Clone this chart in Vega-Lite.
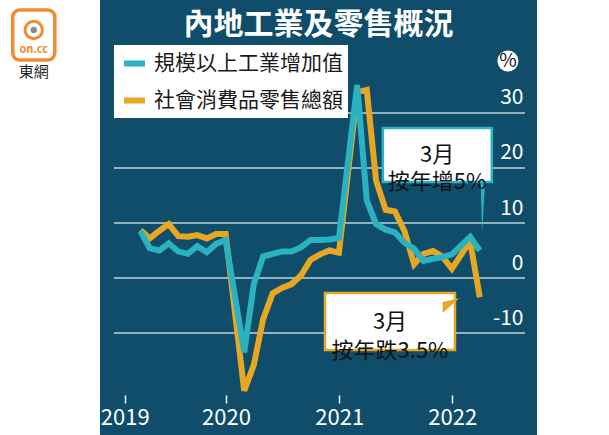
{
  "$schema": "https://vega.github.io/schema/vega-lite/v6.json",
  "width": 437,
  "height": 435,
  "autosize": "none",
  "padding": {"left": 100, "right": 72, "top": 0, "bottom": 0},
  "background": "white",
  "title": {
    "text": "內地工業及零售概況",
    "font": "Noto Sans CJK TC",
    "fontSize": 30,
    "fontWeight": "bold",
    "color": "white",
    "anchor": "middle",
    "frame": "group",
    "offset": -40
  },
  "config": {
    "view": {"fill": "#0f4d6a", "stroke": null},
    "font": "Noto Sans CJK TC",
    "axis": {"title": null}
  },
  "datasets": {
    "series": [
      {"date": "2019-03-31", "series": "規模以上工業增加值", "value": 8.5},
      {"date": "2019-04-30", "series": "規模以上工業增加值", "value": 5.4},
      {"date": "2019-05-31", "series": "規模以上工業增加值", "value": 5.0},
      {"date": "2019-06-30", "series": "規模以上工業增加值", "value": 6.3},
      {"date": "2019-07-31", "series": "規模以上工業增加值", "value": 4.8},
      {"date": "2019-08-31", "series": "規模以上工業增加值", "value": 4.4},
      {"date": "2019-09-30", "series": "規模以上工業增加值", "value": 5.8},
      {"date": "2019-10-31", "series": "規模以上工業增加值", "value": 4.7},
      {"date": "2019-11-30", "series": "規模以上工業增加值", "value": 6.2},
      {"date": "2019-12-31", "series": "規模以上工業增加值", "value": 6.9},
      {"date": "2020-02-29", "series": "規模以上工業增加值", "value": -13.5},
      {"date": "2020-03-31", "series": "規模以上工業增加值", "value": -1.1},
      {"date": "2020-04-30", "series": "規模以上工業增加值", "value": 3.9},
      {"date": "2020-05-31", "series": "規模以上工業增加值", "value": 4.4},
      {"date": "2020-06-30", "series": "規模以上工業增加值", "value": 4.8},
      {"date": "2020-07-31", "series": "規模以上工業增加值", "value": 4.8},
      {"date": "2020-08-31", "series": "規模以上工業增加值", "value": 5.6},
      {"date": "2020-09-30", "series": "規模以上工業增加值", "value": 6.9},
      {"date": "2020-10-31", "series": "規模以上工業增加值", "value": 6.9},
      {"date": "2020-11-30", "series": "規模以上工業增加值", "value": 7.0},
      {"date": "2020-12-31", "series": "規模以上工業增加值", "value": 7.3},
      {"date": "2021-02-28", "series": "規模以上工業增加值", "value": 35.1},
      {"date": "2021-03-31", "series": "規模以上工業增加值", "value": 14.1},
      {"date": "2021-04-30", "series": "規模以上工業增加值", "value": 9.8},
      {"date": "2021-05-31", "series": "規模以上工業增加值", "value": 8.8},
      {"date": "2021-06-30", "series": "規模以上工業增加值", "value": 8.3},
      {"date": "2021-07-31", "series": "規模以上工業增加值", "value": 6.4},
      {"date": "2021-08-31", "series": "規模以上工業增加值", "value": 5.3},
      {"date": "2021-09-30", "series": "規模以上工業增加值", "value": 3.1},
      {"date": "2021-10-31", "series": "規模以上工業增加值", "value": 3.5},
      {"date": "2021-11-30", "series": "規模以上工業增加值", "value": 3.8},
      {"date": "2021-12-31", "series": "規模以上工業增加值", "value": 4.3},
      {"date": "2022-02-28", "series": "規模以上工業增加值", "value": 7.5},
      {"date": "2022-03-31", "series": "規模以上工業增加值", "value": 5.0},
      {"date": "2019-03-31", "series": "社會消費品零售總額", "value": 8.7},
      {"date": "2019-04-30", "series": "社會消費品零售總額", "value": 7.2},
      {"date": "2019-05-31", "series": "社會消費品零售總額", "value": 8.6},
      {"date": "2019-06-30", "series": "社會消費品零售總額", "value": 9.8},
      {"date": "2019-07-31", "series": "社會消費品零售總額", "value": 7.6},
      {"date": "2019-08-31", "series": "社會消費品零售總額", "value": 7.5},
      {"date": "2019-09-30", "series": "社會消費品零售總額", "value": 7.8},
      {"date": "2019-10-31", "series": "社會消費品零售總額", "value": 7.2},
      {"date": "2019-11-30", "series": "社會消費品零售總額", "value": 8.0},
      {"date": "2019-12-31", "series": "社會消費品零售總額", "value": 8.0},
      {"date": "2020-02-29", "series": "社會消費品零售總額", "value": -20.5},
      {"date": "2020-03-31", "series": "社會消費品零售總額", "value": -15.8},
      {"date": "2020-04-30", "series": "社會消費品零售總額", "value": -7.5},
      {"date": "2020-05-31", "series": "社會消費品零售總額", "value": -2.8},
      {"date": "2020-06-30", "series": "社會消費品零售總額", "value": -1.8},
      {"date": "2020-07-31", "series": "社會消費品零售總額", "value": -1.1},
      {"date": "2020-08-31", "series": "社會消費品零售總額", "value": 0.5},
      {"date": "2020-09-30", "series": "社會消費品零售總額", "value": 3.3},
      {"date": "2020-10-31", "series": "社會消費品零售總額", "value": 4.3},
      {"date": "2020-11-30", "series": "社會消費品零售總額", "value": 5.0},
      {"date": "2020-12-31", "series": "社會消費品零售總額", "value": 4.6},
      {"date": "2021-02-28", "series": "社會消費品零售總額", "value": 33.8},
      {"date": "2021-03-31", "series": "社會消費品零售總額", "value": 34.2},
      {"date": "2021-04-30", "series": "社會消費品零售總額", "value": 17.7},
      {"date": "2021-05-31", "series": "社會消費品零售總額", "value": 12.4},
      {"date": "2021-06-30", "series": "社會消費品零售總額", "value": 12.1},
      {"date": "2021-07-31", "series": "社會消費品零售總額", "value": 8.5},
      {"date": "2021-08-31", "series": "社會消費品零售總額", "value": 2.5},
      {"date": "2021-09-30", "series": "社會消費品零售總額", "value": 4.4},
      {"date": "2021-10-31", "series": "社會消費品零售總額", "value": 4.9},
      {"date": "2021-11-30", "series": "社會消費品零售總額", "value": 3.9},
      {"date": "2021-12-31", "series": "社會消費品零售總額", "value": 1.7},
      {"date": "2022-02-28", "series": "社會消費品零售總額", "value": 6.7},
      {"date": "2022-03-31", "series": "社會消費品零售總額", "value": -3.5}
    ],
    "grid": [{"tick": -10}, {"tick": 0}, {"tick": 10}, {"tick": 20}, {"tick": 30}]
  },
  "layer": [
    {
      "data": {"name": "grid"},
      "mark": {"type": "rule", "stroke": "#c2d3dc", "strokeWidth": 1.5},
      "encoding": {
        "x": {
          "datum": {"year": 2019, "month": 1, "date": 4, "utc": true},
          "type": "temporal",
          "scale": {
            "type": "utc",
            "domain": [
              {"year": 2018, "month": 11, "date": 20, "utc": true},
              {"year": 2022, "month": 10, "date": 2, "utc": true}
            ]
          }
        },
        "x2": {"datum": {"year": 2022, "month": 8, "date": 24, "utc": true}},
        "y": {
          "field": "tick",
          "type": "quantitative",
          "scale": {"domain": [-28.545, 50.545], "nice": false, "zero": false},
          "axis": {
            "orient": "right",
            "values": [-10, 0, 10, 20, 30],
            "labelExpr": "'' + datum.value",
            "domain": false,
            "ticks": false,
            "tickSize": 0,
            "grid": false,
            "labelAlign": "right",
            "labelBaseline": "middle",
            "labelPadding": -14,
            "labelOffset": -15,
            "labelColor": "white",
            "labelFontSize": 21,
            "labelFont": "Noto Sans CJK TC",
            "title": null
          }
        }
      }
    },
    {
      "data": {"name": "series"},
      "transform": [{"filter": "datum.series === '社會消費品零售總額'"}],
      "mark": {"type": "line", "strokeWidth": 6, "strokeJoin": "miter"},
      "encoding": {
        "x": {
          "field": "date",
          "type": "temporal",
          "axis": {
            "orient": "bottom",
            "offset": -40,
            "values": [
              {"year": 2019, "month": 2, "date": 8, "utc": true},
              {"year": 2020, "month": 1, "date": 1, "utc": true},
              {"year": 2021, "month": 1, "date": 1, "utc": true},
              {"year": 2022, "month": 1, "date": 1, "utc": true}
            ],
            "format": "%Y",
            "domain": false,
            "grid": false,
            "ticks": true,
            "tickSize": 8,
            "tickColor": "white",
            "tickWidth": 1.5,
            "labelColor": "white",
            "labelFontSize": 22,
            "labelFont": "Noto Sans CJK TC",
            "labelPadding": 4,
            "labelFlush": false,
            "labelOverlap": false,
            "title": null
          }
        },
        "y": {"field": "value", "type": "quantitative"},
        "color": {
          "field": "series",
          "type": "nominal",
          "scale": {
            "domain": ["規模以上工業增加值", "社會消費品零售總額"],
            "range": ["#2bb2c0", "#e8a722"]
          },
          "legend": {
            "orient": "none",
            "legendX": 14,
            "legendY": 45,
            "title": null,
            "fillColor": "white",
            "padding": 5,
            "rowPadding": 11,
            "symbolType": "stroke",
            "symbolSize": 441,
            "symbolStrokeWidth": 6,
            "symbolOffset": 2,
            "labelOffset": 6,
            "labelFontSize": 21,
            "labelFont": "Noto Sans CJK TC",
            "labelColor": "#1a1a1a",
            "labelLimit": 300
          }
        }
      }
    },
    {
      "data": {"name": "series"},
      "transform": [{"filter": "datum.series === '規模以上工業增加值'"}],
      "mark": {"type": "line", "strokeWidth": 6, "strokeJoin": "miter"},
      "encoding": {
        "x": {"field": "date", "type": "temporal"},
        "y": {"field": "value", "type": "quantitative"},
        "color": {"field": "series", "type": "nominal"}
      }
    },
    {
      "data": {"values": [{"note": "3月\n按年增5%"}]},
      "layer": [
        {
          "mark": {"type": "rect", "fill": "white", "stroke": "#2bb2c0", "strokeWidth": 2.5},
          "encoding": {
            "x": {"datum": {"year": 2021, "month": 5, "date": 22, "utc": true}, "type": "temporal"},
            "x2": {"datum": {"year": 2022, "month": 5, "date": 9, "utc": true}},
            "y": {"datum": 27.27, "type": "quantitative"},
            "y2": {"datum": 17.45}
          }
        },
        {
          "mark": {"type": "point", "shape": "M -0.08 -1.05 L 0.09 -1.05 L -0.03 1 Z", "filled": true, "fill": "#2bb2c0", "opacity": 1, "size": 2704, "strokeWidth": 0},
          "encoding": {
            "x": {"datum": {"year": 2022, "month": 4, "date": 10, "utc": true}, "type": "temporal"},
            "y": {"datum": 12.73, "type": "quantitative"}
          }
        },
        {
          "mark": {"type": "text", "lineBreak": "\n", "fontSize": 22, "lineHeight": 27, "color": "#111111", "align": "center", "baseline": "middle", "font": "Noto Sans CJK TC"},
          "encoding": {
            "x": {"datum": {"year": 2021, "month": 11, "date": 13, "utc": true}, "type": "temporal"},
            "y": {"datum": 22.36, "type": "quantitative"},
            "text": {"field": "note"}
          }
        }
      ]
    },
    {
      "data": {"values": [{"note": "3月\n按年跌3.5%"}]},
      "layer": [
        {
          "mark": {"type": "rect", "fill": "white", "stroke": "#e8a722", "strokeWidth": 2.5},
          "encoding": {
            "x": {"datum": {"year": 2020, "month": 11, "date": 16, "utc": true}, "type": "temporal"},
            "x2": {"datum": {"year": 2022, "month": 1, "date": 10, "utc": true}},
            "y": {"datum": -2.73, "type": "quantitative"},
            "y2": {"datum": -13.09}
          }
        },
        {
          "mark": {"type": "point", "shape": "M -1.15 -0.44 L -1.15 0.94 L 0.94 -0.94 Z", "filled": true, "fill": "#e8a722", "opacity": 1, "size": 256, "strokeWidth": 0},
          "encoding": {
            "x": {"datum": {"year": 2021, "month": 12, "date": 31, "utc": true}, "type": "temporal"},
            "y": {"datum": -5.0, "type": "quantitative"}
          }
        },
        {
          "mark": {"type": "text", "lineBreak": "\n", "fontSize": 22, "lineHeight": 29, "color": "#111111", "align": "center", "baseline": "middle", "font": "Noto Sans CJK TC"},
          "encoding": {
            "x": {"datum": {"year": 2021, "month": 6, "date": 14, "utc": true}, "type": "temporal"},
            "y": {"datum": -8.09, "type": "quantitative"},
            "text": {"field": "note"}
          }
        }
      ]
    },
    {
      "data": {"values": [{"unit": "%"}]},
      "layer": [
        {
          "mark": {"type": "point", "shape": "circle", "filled": true, "fill": "white", "opacity": 1, "size": 441, "strokeWidth": 0},
          "encoding": {
            "x": {"datum": {"year": 2022, "month": 6, "date": 30, "utc": true}, "type": "temporal"},
            "y": {"datum": 39.45, "type": "quantitative"}
          }
        },
        {
          "mark": {"type": "text", "fontSize": 19, "color": "#111111", "align": "center", "baseline": "middle", "font": "Noto Sans CJK TC"},
          "encoding": {
            "x": {"datum": {"year": 2022, "month": 6, "date": 30, "utc": true}, "type": "temporal"},
            "y": {"datum": 39.45, "type": "quantitative"},
            "text": {"field": "unit"}
          }
        }
      ]
    },
    {
      "data": {"values": [{"brand": "on.cc", "name": "東網"}]},
      "layer": [
        {
          "mark": {"type": "rect", "fill": "white", "stroke": "#f08c2e", "strokeWidth": 3.5, "cornerRadius": 7},
          "encoding": {
            "x": {"datum": {"year": 2018, "month": 2, "date": 11, "utc": true}, "type": "temporal"},
            "x2": {"datum": {"year": 2018, "month": 6, "date": 27, "utc": true}},
            "y": {"datum": 48.73, "type": "quantitative"},
            "y2": {"datum": 39.64}
          }
        },
        {
          "mark": {"type": "point", "shape": "circle", "filled": false, "stroke": "#f08c2e", "opacity": 1, "size": 300, "strokeWidth": 3},
          "encoding": {
            "x": {"datum": {"year": 2018, "month": 4, "date": 20, "utc": true}, "type": "temporal"},
            "y": {"datum": 45.09, "type": "quantitative"}
          }
        },
        {
          "mark": {"type": "point", "shape": "circle", "filled": true, "fill": "#8a8a8a", "opacity": 1, "size": 40, "strokeWidth": 0},
          "encoding": {
            "x": {"datum": {"year": 2018, "month": 4, "date": 20, "utc": true}, "type": "temporal"},
            "y": {"datum": 45.09, "type": "quantitative"}
          }
        },
        {
          "mark": {"type": "text", "fontSize": 11, "fontWeight": "bold", "color": "#f08c2e", "align": "center", "baseline": "middle", "font": "Noto Sans CJK TC"},
          "encoding": {
            "x": {"datum": {"year": 2018, "month": 4, "date": 20, "utc": true}, "type": "temporal"},
            "y": {"datum": 41.45, "type": "quantitative"},
            "text": {"field": "brand"}
          }
        },
        {
          "mark": {"type": "text", "fontSize": 15, "color": "#222222", "align": "center", "baseline": "middle", "font": "Noto Sans CJK TC"},
          "encoding": {
            "x": {"datum": {"year": 2018, "month": 4, "date": 20, "utc": true}, "type": "temporal"},
            "y": {"datum": 37.45, "type": "quantitative"},
            "text": {"field": "name"}
          }
        }
      ]
    }
  ]
}
